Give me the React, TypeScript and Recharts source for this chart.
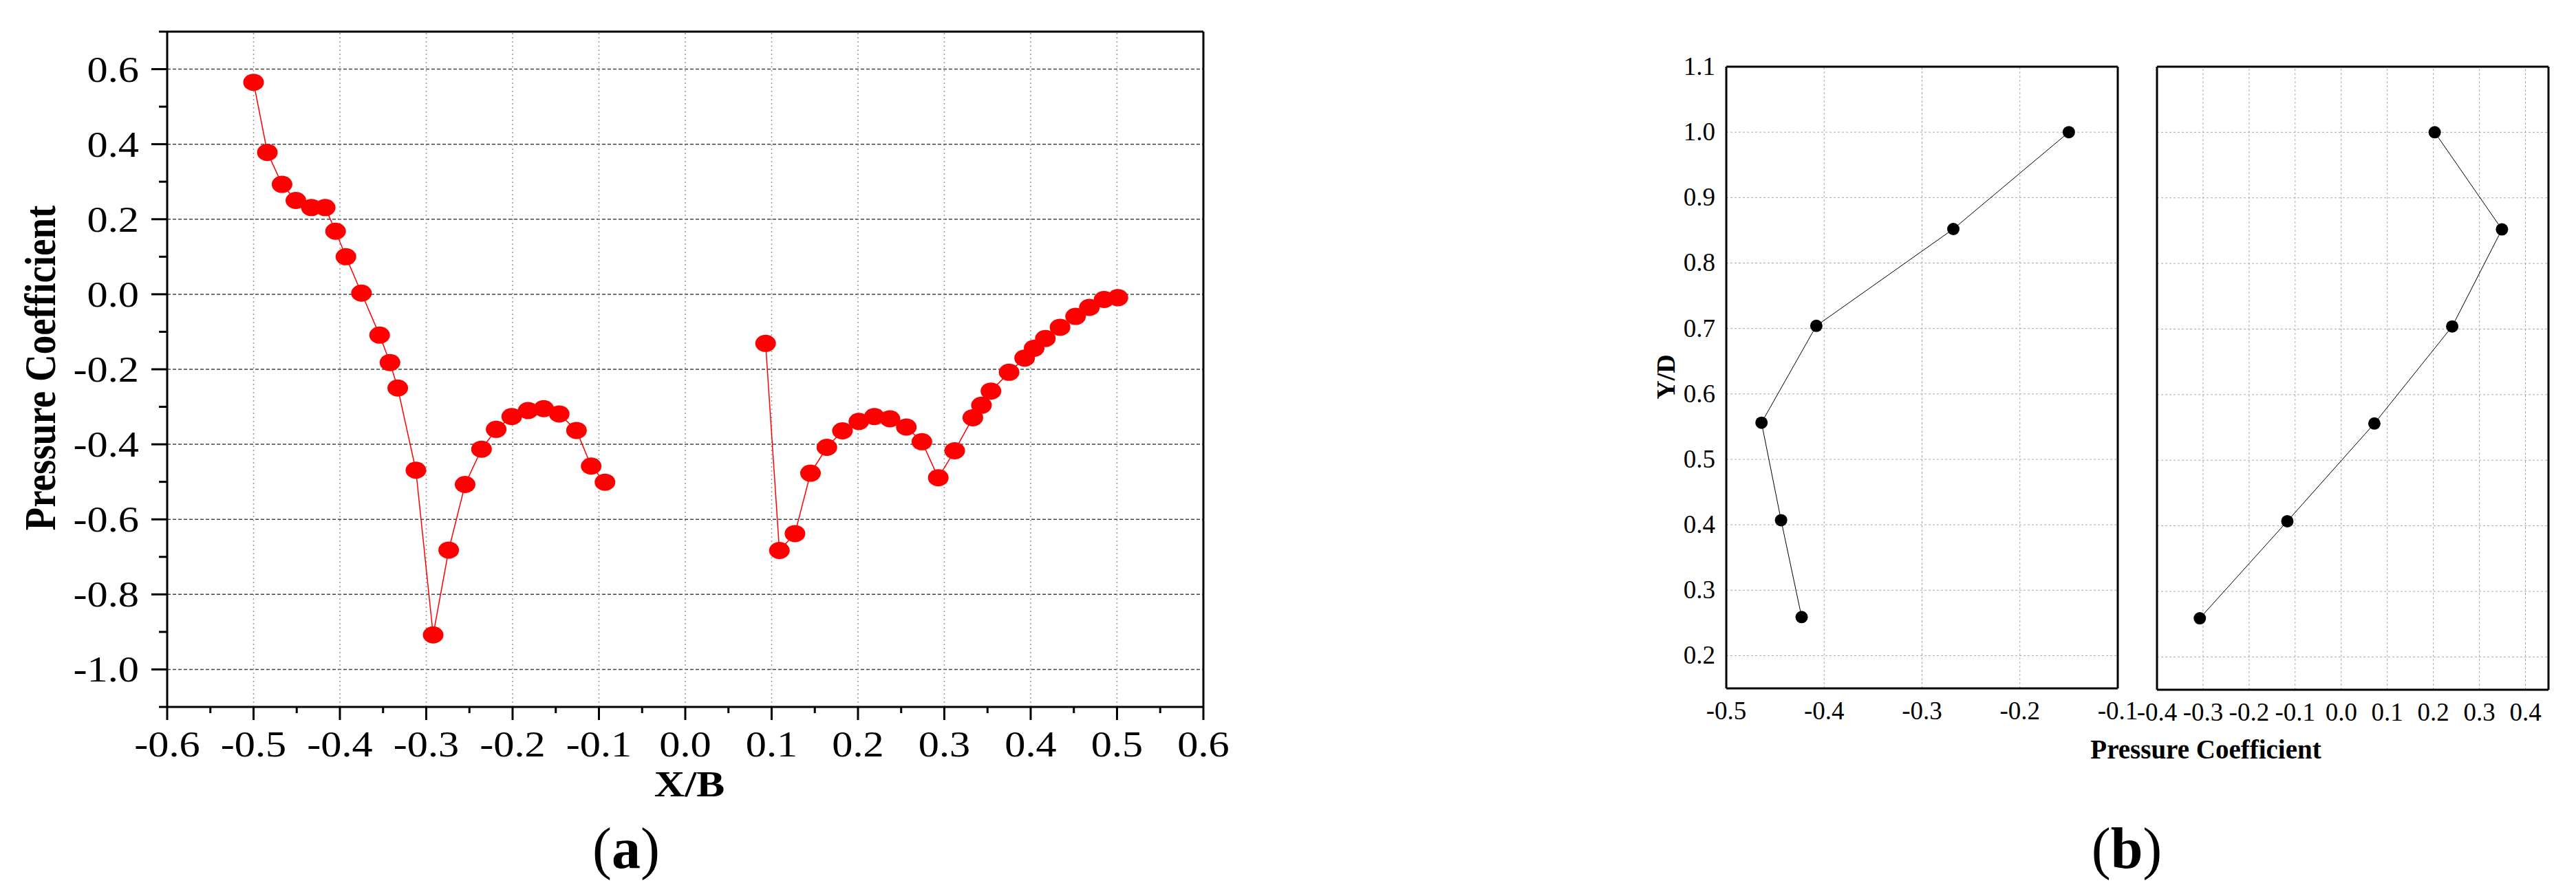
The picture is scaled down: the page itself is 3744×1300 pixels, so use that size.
import React from 'react';
import { LineChart, Line, XAxis, YAxis, ReferenceLine } from 'recharts';

// ---------- Panel (a) data ----------
const aLeftX = [-0.500, -0.484, -0.467, -0.451, -0.433, -0.417, -0.405, -0.393, -0.375, -0.354, -0.342, -0.333, -0.312, -0.292, -0.274, -0.255, -0.236, -0.219, -0.201, -0.182, -0.164, -0.146, -0.126, -0.109, -0.093];
const aLeftCp = [0.565, 0.378, 0.293, 0.250, 0.231, 0.231, 0.168, 0.100, 0.003, -0.109, -0.182, -0.250, -0.469, -0.908, -0.682, -0.507, -0.413, -0.360, -0.326, -0.310, -0.305, -0.319, -0.363, -0.458, -0.501];
const aRightX = [0.093, 0.109, 0.127, 0.145, 0.164, 0.182, 0.201, 0.219, 0.237, 0.256, 0.274, 0.293, 0.312, 0.333, 0.343, 0.354, 0.375, 0.393, 0.404, 0.417, 0.434, 0.452, 0.468, 0.485, 0.501];
const aRightCp = [-0.131, -0.683, -0.638, -0.477, -0.408, -0.364, -0.339, -0.326, -0.332, -0.354, -0.393, -0.489, -0.417, -0.329, -0.296, -0.258, -0.208, -0.170, -0.144, -0.118, -0.088, -0.059, -0.035, -0.014, -0.009];

const aXTicks = [-0.6, -0.55, -0.5, -0.45, -0.4, -0.35, -0.3, -0.25, -0.2, -0.15, -0.1, -0.05, 0, 0.05, 0.1, 0.15, 0.2, 0.25, 0.3, 0.35, 0.4, 0.45, 0.5, 0.55, 0.6];
const aYTicks = [-1.1, -1.0, -0.9, -0.8, -0.7, -0.6, -0.5, -0.4, -0.3, -0.2, -0.1, 0, 0.1, 0.2, 0.3, 0.4, 0.5, 0.6, 0.7];
const aXGrid = [-0.5, -0.4, -0.3, -0.2, -0.1, 0, 0.1, 0.2, 0.3, 0.4, 0.5];
const aYGrid = [-1.0, -0.8, -0.6, -0.4, -0.2, 0, 0.2, 0.4, 0.6];

// ---------- Panel (b) data ----------
const bYD = [1.0, 0.852, 0.704, 0.556, 0.407, 0.259];
const bLeftCp = [-0.150, -0.268, -0.408, -0.464, -0.444, -0.423];
const bRightCp = [0.203, 0.349, 0.241, 0.072, -0.117, -0.307];

const bYTicks = [0.2, 0.3, 0.4, 0.5, 0.6, 0.7, 0.8, 0.9, 1.0, 1.1];
const bYGrid = [0.2, 0.3, 0.4, 0.5, 0.6, 0.7, 0.8, 0.9, 1.0];
const bLeftXTicks = [-0.5, -0.4, -0.3, -0.2, -0.1];
const bLeftXGrid = [-0.4, -0.3, -0.2];
const bRightXTicks = [-0.4, -0.3, -0.2, -0.1, 0, 0.1, 0.2, 0.3, 0.4];
const bRightXGrid = [-0.3, -0.2, -0.1, 0, 0.1, 0.2, 0.3, 0.4];

const FONT = '"Liberation Serif", "Times New Roman", serif';

const aLeftData = aLeftX.map((x, i) => ({ x, y: aLeftCp[i] }));
const aRightData = aRightX.map((x, i) => ({ x, y: aRightCp[i] }));
const bLeftData = bYD.map((y, i) => ({ x: bLeftCp[i], y }));
const bRightData = bYD.map((y, i) => ({ x: bRightCp[i], y }));

const fmt = (v: number) => (Math.abs(v) < 1e-9 ? 0 : v).toFixed(1);

const AXTick = (props: any) => {
  const { x, y, payload } = props;
  const v = payload.value as number;
  const major = Math.round(v * 100) % 10 === 0;
  return (
    <g>
      <line x1={x} x2={x} y1={y} y2={y + (major ? 19 : 9)} stroke="#000" strokeWidth={3} />
      {major && (
        <text transform={`translate(${x},${y + 72}) scale(1.16,1)`} textAnchor="middle" fontFamily={FONT} fontSize={52} fill="#000">
          {fmt(v)}
        </text>
      )}
    </g>
  );
};

const AYTick = (props: any) => {
  const { x, y, payload } = props;
  const v = payload.value as number;
  const major = Math.round(v * 10) % 2 === 0;
  return (
    <g>
      <line x1={x} x2={x - (major ? 23 : 12)} y1={y} y2={y} stroke="#000" strokeWidth={3} />
      {major && (
        <text transform={`translate(${x - 41},${y + 18}) scale(1.16,1)`} textAnchor="end" fontFamily={FONT} fontSize={52} fill="#000">
          {fmt(v)}
        </text>
      )}
    </g>
  );
};

const BXTick = (props: any) => {
  const { x, y, payload } = props;
  return (
    <text x={x} y={y + 45} textAnchor="middle" fontFamily={FONT} fontSize={37} fill="#000">
      {fmt(payload.value)}
    </text>
  );
};

const BYTick = (props: any) => {
  const { x, y, payload } = props;
  return (
    <text x={x - 16} y={y + 12} textAnchor="end" fontFamily={FONT} fontSize={37} fill="#000">
      {fmt(payload.value)}
    </text>
  );
};

const redDot = (p: any) => <ellipse key={`r-${p.index}-${p.cx}`} cx={p.cx} cy={p.cy} rx={15} ry={12.5} fill="#ff0000" />;
const blackDot = (p: any) => <circle key={`k-${p.index}-${p.cx}`} cx={p.cx} cy={p.cy} r={9} fill="#000" />;

const PanelA = () => (
  <LineChart width={1800} height={1300} margin={{ top: 46, right: 51, bottom: 0, left: 0 }}>
    <XAxis type="number" dataKey="x" domain={[-0.6, 0.6]} allowDataOverflow ticks={aXTicks} interval={0} tickSize={0} tickMargin={0} tickLine={false} tick={<AXTick />} height={272} axisLine={{ stroke: '#000', strokeWidth: 3 }} />
    <YAxis type="number" dataKey="y" domain={[-1.1, 0.7]} allowDataOverflow ticks={aYTicks} interval={0} tickSize={0} tickMargin={0} tickLine={false} tick={<AYTick />} width={243} axisLine={{ stroke: '#000', strokeWidth: 3 }} />
    {aYGrid.map((v) => (
      <ReferenceLine key={`ay${v}`} y={v} stroke="#444" strokeWidth={1.5} strokeDasharray="5 3" />
    ))}
    {aXGrid.map((v) => (
      <ReferenceLine key={`ax${v}`} x={v} stroke="#999" strokeWidth={1.5} strokeDasharray="2 4" />
    ))}
    <ReferenceLine y={0.7} stroke="#000" strokeWidth={3} />
    <ReferenceLine x={0.6} stroke="#000" strokeWidth={3} />
    <Line data={aLeftData} dataKey="y" type="linear" stroke="#ff0000" strokeWidth={1.5} dot={redDot} activeDot={false} isAnimationActive={false} />
    <Line data={aRightData} dataKey="y" type="linear" stroke="#ff0000" strokeWidth={1.5} dot={redDot} activeDot={false} isAnimationActive={false} />
  </LineChart>
);

const PanelBLeft = () => (
  <LineChart width={840} height={1300} margin={{ top: 97, right: 62, bottom: 0, left: 0 }}>
    <XAxis type="number" dataKey="x" domain={[-0.5, -0.1]} allowDataOverflow ticks={bLeftXTicks} interval={0} tickSize={0} tickMargin={0} tickLine={false} tick={<BXTick />} height={299} axisLine={{ stroke: '#000', strokeWidth: 3 }} />
    <YAxis type="number" dataKey="y" domain={[0.15, 1.1]} allowDataOverflow ticks={bYTicks} interval={0} tickSize={0} tickMargin={0} tickLine={false} tick={<BYTick />} width={209} axisLine={{ stroke: '#000', strokeWidth: 3 }} />
    {bYGrid.map((v) => (
      <ReferenceLine key={`by${v}`} y={v} stroke="#aaa" strokeWidth={1} strokeDasharray="3 3" />
    ))}
    {bLeftXGrid.map((v) => (
      <ReferenceLine key={`bx${v}`} x={v} stroke="#aaa" strokeWidth={1} strokeDasharray="3 3" />
    ))}
    <ReferenceLine y={1.1} stroke="#000" strokeWidth={3} />
    <ReferenceLine x={-0.1} stroke="#000" strokeWidth={3} />
    <Line data={bLeftData} dataKey="y" type="linear" stroke="#000" strokeWidth={1} dot={blackDot} activeDot={false} isAnimationActive={false} />
  </LineChart>
);

const PanelBRight = () => (
  <LineChart width={644} height={1300} margin={{ top: 97, right: 40, bottom: 0, left: 0 }}>
    <XAxis type="number" dataKey="x" domain={[-0.4, 0.45]} allowDataOverflow ticks={bRightXTicks} interval={0} tickSize={0} tickMargin={0} tickLine={false} tick={<BXTick />} height={297} axisLine={{ stroke: '#000', strokeWidth: 3 }} />
    <YAxis type="number" dataKey="y" domain={[0.15, 1.1]} allowDataOverflow ticks={bYTicks} interval={0} tickLine={false} tick={false} width={35} axisLine={{ stroke: '#000', strokeWidth: 3 }} />
    {bYGrid.map((v) => (
      <ReferenceLine key={`ry${v}`} y={v} stroke="#aaa" strokeWidth={1} strokeDasharray="3 3" />
    ))}
    {bRightXGrid.map((v) => (
      <ReferenceLine key={`rx${v}`} x={v} stroke="#aaa" strokeWidth={1} strokeDasharray="3 3" />
    ))}
    <ReferenceLine y={1.1} stroke="#000" strokeWidth={3} />
    <ReferenceLine x={0.45} stroke="#000" strokeWidth={3} />
    <Line data={bRightData} dataKey="y" type="linear" stroke="#000" strokeWidth={1} dot={blackDot} activeDot={false} isAnimationActive={false} />
  </LineChart>
);

export default function App() {
  return (
    <div style={{ position: 'absolute', left: 0, top: 0, width: 3744, height: 1300, background: '#fff', overflow: 'hidden' }}>
      <div style={{ position: 'absolute', left: 0, top: 0 }}>
        <PanelA />
      </div>
      <div style={{ position: 'absolute', left: 3100, top: 0 }}>
        <PanelBRight />
      </div>
      <div style={{ position: 'absolute', left: 2300, top: 0 }}>
        <PanelBLeft />
      </div>
      <svg width={3744} height={1300} style={{ position: 'absolute', left: 0, top: 0, pointerEvents: 'none' }}>
        <text transform="translate(80,535) rotate(-90) scale(1,1.16)" textAnchor="middle" fontFamily={FONT} fontWeight="bold" fontSize={55} fill="#000">
          Pressure Coefficient
        </text>
        <text transform="translate(1002,1158) scale(1.16,1)" textAnchor="middle" fontFamily={FONT} fontWeight="bold" fontSize={53} fill="#000">
          X/B
        </text>
        <text x={910} y={1262} textAnchor="middle" fontFamily={FONT} fontSize={84} fill="#000">
          (<tspan fontWeight="bold">a</tspan>)
        </text>
        <text transform="translate(2434,548) rotate(-90)" textAnchor="middle" fontFamily={FONT} fontWeight="bold" fontSize={38} fill="#000">
          Y/D
        </text>
        <text x={3206} y={1103} textAnchor="middle" fontFamily={FONT} fontWeight="bold" fontSize={39} fill="#000">
          Pressure Coefficient
        </text>
        <text x={3091} y={1262} textAnchor="middle" fontFamily={FONT} fontSize={84} fill="#000">
          (<tspan fontWeight="bold">b</tspan>)
        </text>
      </svg>
    </div>
  );
}
